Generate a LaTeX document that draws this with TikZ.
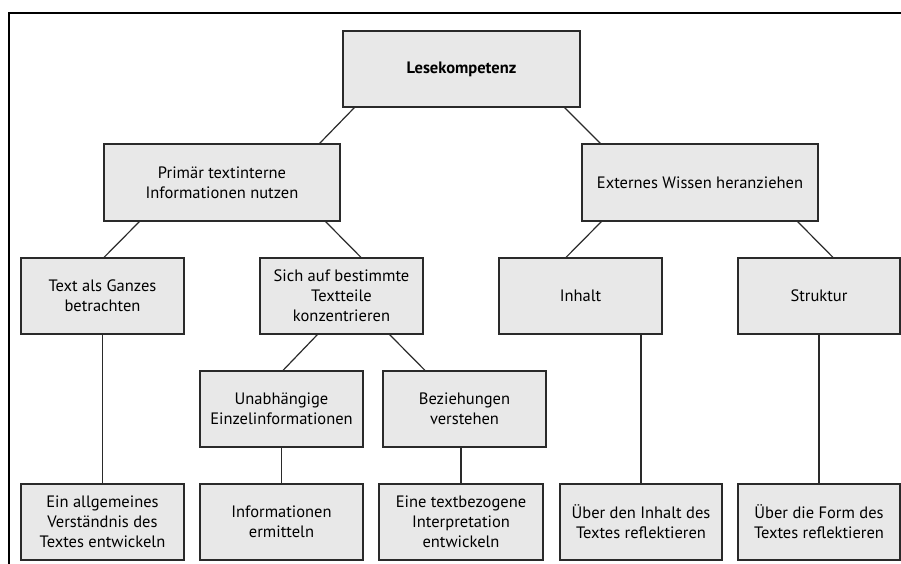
\documentclass[tikz,border=0pt]{standalone}
\usepackage{fontspec}
\setmainfont{PT Sans}
\definecolor{boxgrey}{HTML}{E8E8E8}
\definecolor{edge}{HTML}{2A2A2A}
\begin{document}
\begin{tikzpicture}[x=1pt,y=-1pt,
  box/.style={draw=edge, line width=1.2pt, fill=boxgrey, align=center,
    inner sep=0pt, minimum width=163pt, minimum height=76pt,
    font=\fontsize{16.5}{20}\selectfont},
  wide/.style={minimum width=236pt, minimum height=77pt},
  link/.style={draw=edge, line width=1.2pt},
  frame/.style={draw=black, line width=1.5pt}]

\useasboundingbox (0,0) rectangle (901,564);

% outer frame (open towards right and bottom)
\draw[frame] (9,600) -- (9,13) -- (940,13);

% level 0
\node[box, minimum width=237pt, minimum height=76pt, font=\fontsize{16.5}{20}\selectfont\bfseries]
  (root) at (461.5,69) {Lesekompetenz};

% level 1
\node[box, wide] (pri) at (222,182.5) {Primär textinterne\\Informationen nutzen};
\node[box, wide] (ext) at (700,182.5) {Externes Wissen heranziehen};

% level 2
\node[box] (ganz) at (102.5,296) {Text als Ganzes\\betrachten};
\node[box] (teil) at (341.5,296) {Sich auf bestimmte\\Textteile\\konzentrieren};
\node[box] (inh)  at (580.5,296) {Inhalt};
\node[box, minimum width=162pt] (str) at (819,296) {Struktur};

% level 3
\node[box] (einz) at (281.5,409) {Unabhängige\\Einzelinformationen};
\node[box] (bez)  at (464.5,409) {Beziehungen\\verstehen};

% bottom row
\node[box] (verst) at (102.5,522) {Ein allgemeines\\Verständnis des\\Textes entwickeln};
\node[box] (ermit) at (281.5,522) {Informationen\\ermitteln};
\node[box, minimum width=164pt] (interp) at (461,522) {Eine textbezogene\\Interpretation\\entwickeln};
\node[box, minimum width=162pt] (refi) at (641,522) {Über den Inhalt des\\Textes reflektieren};
\node[box, minimum width=162pt] (reff) at (819,522) {Über die Form des\\Textes reflektieren};

% diagonal connectors
\draw[link] ([xshift=12pt]root.south west) -- ([xshift=-21pt]pri.north east);
\draw[link] ([xshift=-16pt]root.south east) -- ([xshift=19pt]ext.north west);
\draw[link] ([xshift=36pt]pri.south west) -- ([xshift=1.5pt]ganz.north);
\draw[link] ([xshift=-15pt]pri.south east) -- ([xshift=19.5pt]teil.north);
\draw[link] ([xshift=20pt]ext.south west) -- ([xshift=-14.5pt]inh.north);
\draw[link] ([xshift=-21pt]ext.south east) -- ([xshift=14pt]str.north);
\draw[link] ([xshift=58pt]teil.south west) -- ([xshift=1.5pt]einz.north);
\draw[link] ([xshift=-34pt]teil.south east) -- ([xshift=-39.5pt]bez.north);

% vertical connectors
\draw[link] (verst.north) -- (verst.north |- ganz.south);
\draw[link] (ermit.north) -- (ermit.north |- einz.south);
\draw[link] (interp.north) -- (interp.north |- bez.south);
\draw[link] (refi.north) -- (refi.north |- inh.south);
\draw[link] (reff.north) -- (reff.north |- str.south);
\end{tikzpicture}
\end{document}
